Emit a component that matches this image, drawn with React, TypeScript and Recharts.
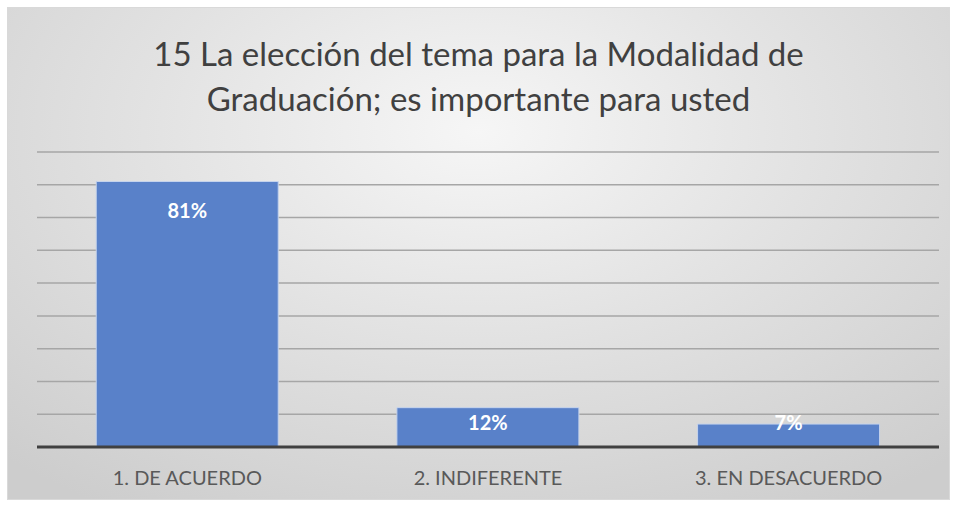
import { Bar, BarChart, CartesianGrid, LabelList, XAxis, YAxis } from "recharts";

const TITLE_LINES = [
  "15 La elección del tema para la Modalidad de",
  "Graduación; es importante para usted",
];
const categories = ["1. DE ACUERDO", "2. INDIFERENTE", "3. EN DESACUERDO"];
const shares = [0.81, 0.12, 0.07];
const yTicks = [0, 0.1, 0.2, 0.3, 0.4, 0.5, 0.6, 0.7, 0.8, 0.9];

const data = categories.map((name, i) => ({ name, value: shares[i] }));

const FONT = "Lato, 'Open Sans', sans-serif";

// Excel-style "inside end" label: sits near the bar top, clamped for short bars
function InsideLabel(props: any) {
  const { x, y, width, height, value } = props;
  const ty = Math.min(y + 28, y + height - 25);
  return (
    <text
      x={x + width / 2}
      y={ty}
      textAnchor="middle"
      dominantBaseline="central"
      fill="#ffffff"
      fontWeight={700}
      fontSize={20}
      fontFamily={FONT}
    >
      {Math.round(value * 100)}%
    </text>
  );
}

export default function App() {
  return (
    <div
      style={{
        position: "absolute",
        left: 7,
        top: 7,
        width: 941,
        height: 491,
        border: "1px solid #d9d9d9",
        background:
          "radial-gradient(ellipse 75% 90% at 50% 25%, #f6f6f6 0%, #e3e3e3 45%, #cdcdcd 100%)",
        fontFamily: FONT,
      }}
    >
      <div
        style={{
          position: "absolute",
          left: 0,
          right: 0,
          top: 23,
          textAlign: "center",
          fontSize: 33,
          lineHeight: "45px",
          color: "#404040",
        }}
      >
        {TITLE_LINES.map((t) => (
          <div key={t}>{t}</div>
        ))}
      </div>
      <div style={{ position: "absolute", left: 0, top: 0 }}>
        <BarChart
          width={941}
          height={491}
          data={data}
          margin={{ top: 144, right: 10, left: 29, bottom: 0 }}
          barCategoryGap="19.7%"
        >
          <CartesianGrid vertical={false} stroke="#a6a6a6" strokeWidth={1.5} />
          <YAxis
            domain={[0, 0.9]}
            ticks={yTicks}
            interval={0}
            width={0}
            tick={{ fill: "transparent", fontSize: 1 }}
            axisLine={false}
            tickLine={false}
          />
          <XAxis
            dataKey="name"
            height={52}
            tickLine={false}
            tickMargin={18}
            axisLine={{ stroke: "#404040", strokeWidth: 3 }}
            tick={{ fill: "#595959", fontSize: 20, fontFamily: FONT }}
          />
          <Bar
            dataKey="value"
            fill="#5981c9"
            stroke="#c5d3ec"
            strokeWidth={1}
            isAnimationActive={false}
          >
            <LabelList dataKey="value" content={InsideLabel} />
          </Bar>
        </BarChart>
      </div>
    </div>
  );
}
